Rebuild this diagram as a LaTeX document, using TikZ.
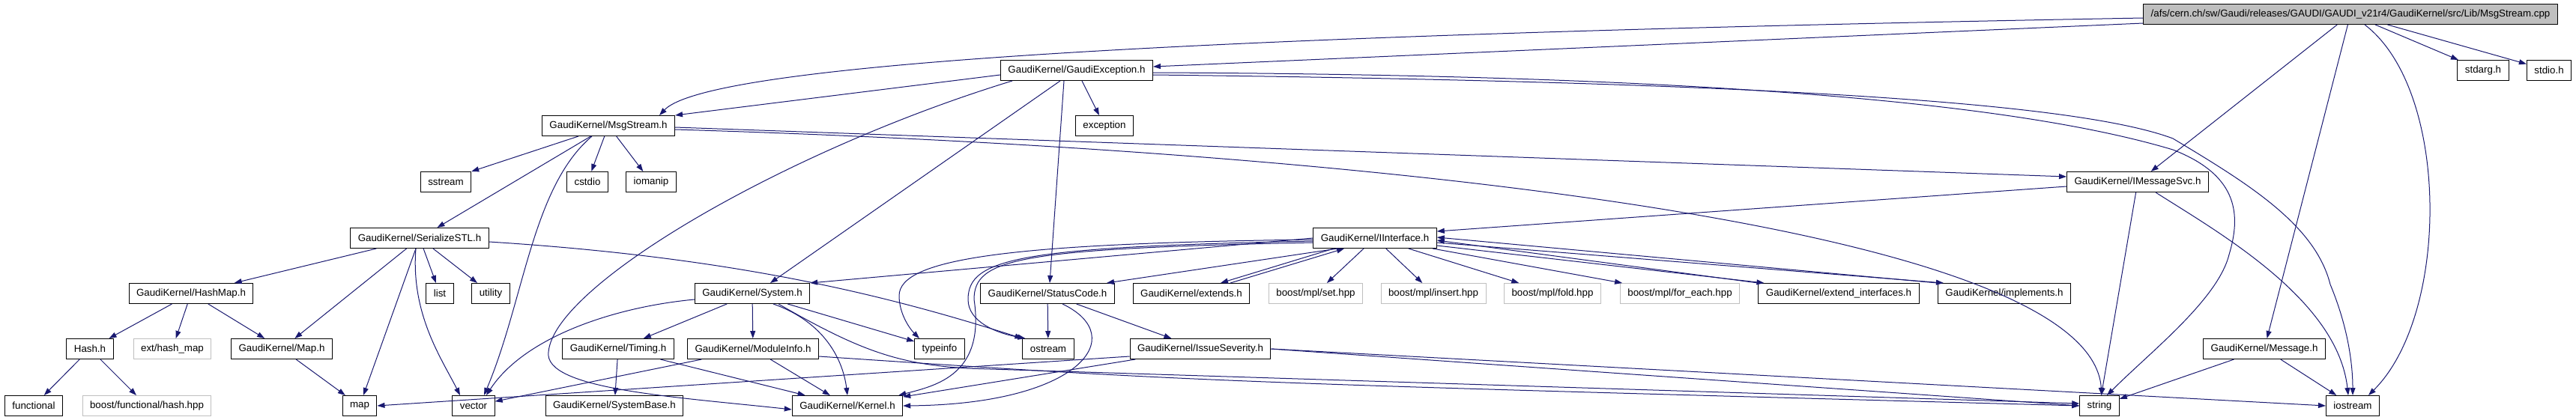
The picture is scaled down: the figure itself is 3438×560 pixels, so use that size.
\documentclass[tikz,border=0pt]{standalone}
\usepackage{fontspec}
\setmainfont{Liberation Sans}
\usetikzlibrary{positioning,arrows.meta}
\definecolor{doxyblue}{HTML}{191970}
\definecolor{doxygray}{HTML}{BFBFBF}

\begin{document}
\begin{tikzpicture}[
		x=1pt, y=-1pt,
		>={Triangle[length=10pt,width=7pt]},
		every node/.style={
			draw,
			line width=1pt,
			font=\fontsize{13.33}{16}\selectfont,
			minimum height=27pt,
			inner xsep=10pt,
			inner ysep=0pt
		},
		extern/.style={draw=doxygray},
		srcfile/.style={fill=doxygray},
		inc/.style={->,color=doxyblue,line width=1pt}
		]
		
		\useasboundingbox (0,0) rectangle (3438,560);
		
		\node[srcfile] (root) at (3137,19) {/afs/cern.ch/sw/Gaudi/releases/GAUDI/GAUDI\_v21r4/GaudiKernel/src/Lib/MsgStream.cpp};
		
		\node (gexc) at (1437,94) {GaudiKernel/GaudiException.h};
		\node (stdarg) at (3314,94) {stdarg.h};
		\node (stdio) at (3402,94) {stdio.h};
		
		\node (msgs) at (812,168) {GaudiKernel/MsgStream.h};
		\node (excp) at (1474,168) {exception};
		
		\node (sstr) at (595,243) {sstream};
		\node (cstdio) at (784,243) {cstdio};
		\node (ioman) at (869,243) {iomanip};
		\node (imsg) at (2853,243) {GaudiKernel/IMessageSvc.h};
		
		\node (ser) at (560,318) {GaudiKernel/SerializeSTL.h};
		\node (iif) at (1835,318) {GaudiKernel/IInterface.h};
		
		\node (hmap) at (255,392) {GaudiKernel/HashMap.h};
		\node (list) at (587,392) {list};
		\node (util) at (655,392) {utility};
		\node (sys) at (1004,392) {GaudiKernel/System.h};
		\node (stc) at (1398,392) {GaudiKernel/StatusCode.h};
		\node (extends) at (1590,392) {GaudiKernel/extends.h};
		\node[extern] (mset) at (1756,392) {boost/mpl/set.hpp};
		\node[extern] (mins) at (1913,392) {boost/mpl/insert.hpp};
		\node[extern] (mfold) at (2072,392) {boost/mpl/fold.hpp};
		\node[extern] (meach) at (2242,392) {boost/mpl/for\_each.hpp};
		\node (extif) at (2454,392) {GaudiKernel/extend\_interfaces.h};
		\node (impl) at (2675,392) {GaudiKernel/implements.h};
		
		\node (hash) at (120,466) {Hash.h};
		\node[extern] (hmapx) at (230,466) {ext/hash\_map};
		\node (gmap) at (376,466) {GaudiKernel/Map.h};
		\node (timing) at (825,466) {GaudiKernel/Timing.h};
		\node (modinfo) at (1005,466) {GaudiKernel/ModuleInfo.h};
		\node (tinfo) at (1254,466) {typeinfo};
		\node (ostr) at (1399,466) {ostream};
		\node (issue) at (1602,466) {GaudiKernel/IssueSeverity.h};
		\node (msg) at (3022,466) {GaudiKernel/Message.h};
		
		\node (func) at (45,542) {functional};
		\node[extern] (bhash) at (196,542) {boost/functional/hash.hpp};
		\node (map) at (480,542) {map};
		\node (vector) at (632,542) {vector};
		\node (sysbase) at (820,542) {GaudiKernel/SystemBase.h};
		\node (kernel) at (1131,542) {GaudiKernel/Kernel.h};
		\node (string) at (2802,542) {string};
		\node (iostr) at (3140,542) {iostream};
		
		\draw[inc] ([yshift=-12pt]root.west) -- ([yshift=5pt]gexc.east);
		\draw[inc] ([yshift=-5pt]root.west) .. controls (1700,45) and (950,80) .. ([xshift=-21pt]msgs.north east);
		\draw[inc] (root) -- (stdarg);
		\draw[inc] (root) -- (stdio);
		\draw[inc] (root) -- (imsg);
		\draw[inc] (root) -- (msg);
		\draw[inc] ([xshift=19pt]root.south) .. controls (3270,120) and (3270,420) .. ([xshift=21pt]iostr.north);
		
		\draw[inc] ([yshift=-6pt]gexc.west) -- (msgs.north east);
		\draw[inc] (gexc) -- (excp);
		\draw[inc] ([xshift=-22pt]gexc.south) -- ([xshift=24pt]sys.north);
		\draw[inc] ([xshift=-17pt]gexc.south) -- ([xshift=3pt]stc.north);
		\draw[inc] ([xshift=-86pt]gexc.south) .. controls (1050,200) and (740,380) .. (732,470)
			.. controls (725,520) and (900,530) .. ([yshift=-5pt]kernel.west);
		\draw[inc] ([yshift=-3pt]gexc.east) .. controls (2300,100) and (2700,140) .. (2900,200)
			.. controls (2990,235) and (2990,290) .. (2975,340)
			.. controls (2960,400) and (2870,470) .. ([xshift=10pt]string.north);
		\draw[inc] ([yshift=-6pt]gexc.east) .. controls (2400,110) and (2780,140) .. (2900,185)
			.. controls (3000,245) and (3090,300) .. (3110,380)
			.. controls (3135,440) and (3140,490) .. (iostr.north);
		
		\draw[inc] ([xshift=-40pt]msgs.south) -- (sstr.north east);
		\draw[inc] (msgs) -- (cstdio);
		\draw[inc] (msgs) -- (ioman);
		\draw[inc] (msgs) -- (ser);
		\draw[inc] ([xshift=-22pt]msgs.south) .. controls (710,250) and (700,400) .. ([xshift=14pt]vector.north);
		\draw[inc] ([yshift=-2pt]msgs.east) -- ([yshift=7pt]imsg.west);
		\draw[inc] ([yshift=-5pt]msgs.east) .. controls (1800,200) and (2790,300) .. ([xshift=3pt]string.north);
		
		\draw[inc] (ser) -- (hmap);
		\draw[inc] (ser) -- (gmap);
		\draw[inc] (ser) -- (map);
		\draw[inc] ([xshift=-5pt]ser.south) .. controls (548,420) and (590,480) .. ([xshift=-18pt]vector.north);
		\draw[inc] (ser) -- (list);
		\draw[inc] (ser) -- (util);
		\draw[inc] ([yshift=-5pt]ser.east) .. controls (1000,345) and (1200,400) .. (ostr.north west);
		
		\draw[inc] (hmap) -- (hash);
		\draw[inc] (hmap) -- (hmapx);
		\draw[inc] (hmap) -- (gmap);
		\draw[inc] (hash) -- (func);
		\draw[inc] (hash) -- (bhash);
		\draw[inc] (gmap) -- (map);
		
		\draw[inc] (sys) -- (timing);
		\draw[inc] (sys) -- (modinfo);
		\draw[inc] ([xshift=28pt]sys.south) .. controls (1100,430) and (1125,480) .. (kernel.north);
		\draw[inc] (sys) -- (tinfo);
		\draw[inc] ([xshift=35pt]sys.south) .. controls (1150,470) and (1200,486) .. (1290,492) -- ([yshift=3pt]string.west);
		\draw[inc] ([yshift=-8pt]sys.west) .. controls (820,410) and (700,450) .. ([xshift=17pt]vector.north);
		
		\draw[inc] (timing) -- (sysbase);
		\draw[inc] (timing) -- (kernel);
		\draw[inc] (modinfo) -- (kernel);
		\draw[inc] (modinfo) -- (vector);
		\draw[inc] ([yshift=-10pt]modinfo.east) .. controls (1600,510) .. (string.west);
		
		\draw[inc] (stc) -- (ostr);
		\draw[inc] (stc) -- (issue);
		\draw[inc] ([xshift=20pt]stc.south) .. controls (1510,450) and (1440,540) .. (kernel.east);
		
		\draw[inc] ([yshift=-10pt]issue.west) -- (map.east);
		\draw[inc] (issue) -- (kernel);
		\draw[inc] (issue.east) -- (string.west);
		\draw[inc] (issue.east) -- (iostr.west);
		
		\draw[inc] (iif.west) -- (sys.north east);
		\draw[inc] ([xshift=-50pt]iif.south) -- ([xshift=79pt]stc.north);
		\draw[inc] ([xshift=-55pt]iif.south) -- ([xshift=39pt]extends.north);
		\draw[inc] ([xshift=52pt]extends.north) -- ([xshift=-41pt]iif.south);
		\draw[inc] (iif) -- (mset);
		\draw[inc] (iif) -- (mins);
		\draw[inc] (iif) -- (mfold);
		\draw[inc] (iif) -- (meach);
		\draw[inc] ([yshift=-10pt]iif.east) -- ([xshift=8pt]extif.north west);
		\draw[inc] (extif.north west) -- ([yshift=-3pt]iif.east);
		\draw[inc] ([yshift=-6pt]iif.east) -- ([xshift=8pt]impl.north west);
		\draw[inc] (impl.north west) -- ([yshift=1pt]iif.east);
		\draw[inc] ([yshift=-2pt]iif.west) .. controls (1350,325) and (1200,345) .. (1200,395)
			.. controls (1200,420) and (1215,440) .. ([xshift=-27pt]tinfo.north);
		\draw[inc] ([yshift=-4pt]iif.west) .. controls (1360,330) and (1292,345) .. (1292,400)
			.. controls (1292,430) and (1330,445) .. ([xshift=4pt]ostr.north west);
		\draw[inc] ([yshift=-6pt]iif.west) .. controls (1360,332) and (1300,345) .. (1300,400)
			.. controls (1315,500) and (1250,515) .. ([xshift=-6pt]kernel.north east);
		
		\draw[inc] ([yshift=-6pt]imsg.west) -- ([yshift=9pt]iif.east);
		\draw[inc] (imsg) -- (string);
		\draw[inc] ([xshift=24pt]imsg.south) .. controls (2960,310) and (3120,400) .. ([xshift=-6pt]iostr.north);
		
		\draw[inc] (msg) -- (string);
		\draw[inc] (msg) -- (iostr);
		
	\end{tikzpicture}
\end{document}
